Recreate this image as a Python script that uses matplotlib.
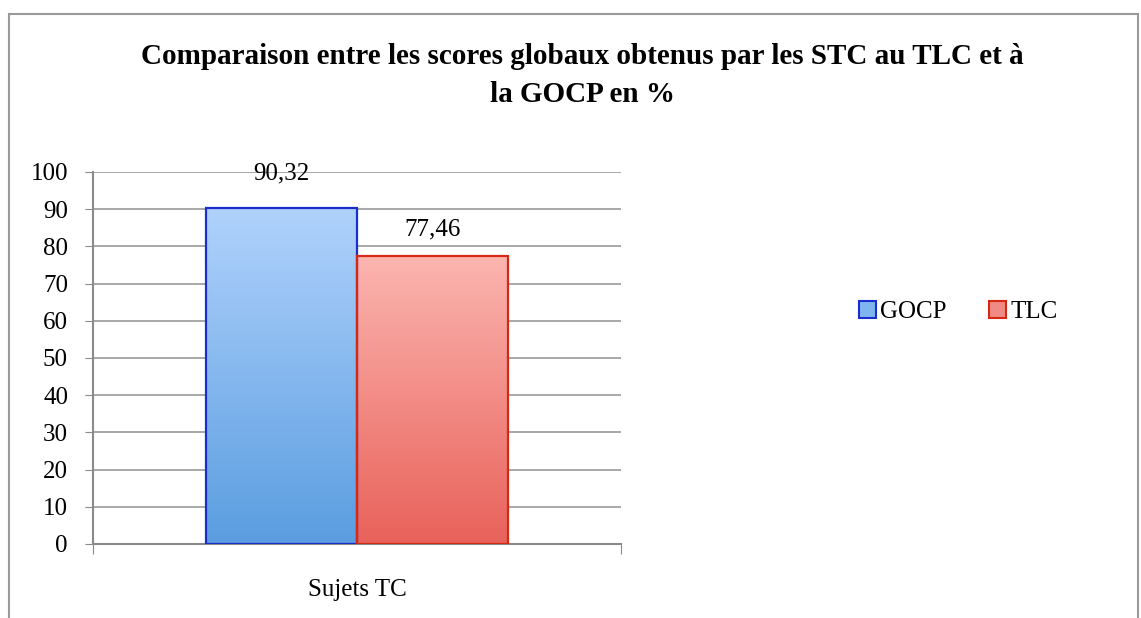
import numpy as np
import matplotlib.pyplot as plt
from matplotlib.patches import Rectangle, Patch
from matplotlib.colors import LinearSegmentedColormap

# data
series = ['GOCP', 'TLC']
values = [90.32, 77.46]
category = 'Sujets TC'
value_labels = ['90,32', '77,46']
yticks = list(range(0, 101, 10))

# styles
top_cols = ['#b0d2fc', '#fcb5b0']
bot_cols = ['#5a9de0', '#e8625a']
mid_cols = ['#7fb4ee', '#f08a84']
edge_cols = ['#1a2ecc', '#d42a14']
label_offsets = [25, 19]  # points above bar top (text centre)

plt.rcParams['font.family'] = ['Liberation Serif', 'DejaVu Serif']

fig = plt.figure(figsize=(11.41, 6.18), dpi=100)
W, H = 1141, 618

# outer chart frame
fig.patches.append(Rectangle((9 / W, -0.05), (1138 - 9) / W, 1.05 - 14 / H,
                             transform=fig.transFigure, fill=False,
                             edgecolor='#9a9a9a', linewidth=1.5))

ax = fig.add_axes([93 / W, 1 - 544 / H, (621 - 93) / W, (544 - 172) / H])
ax.set_xlim(-0.5, 0.5)
ax.set_ylim(0, 100)

bw = 151 / 528
xs = [-bw / 2, bw / 2]
grad = np.linspace(0, 1, 256).reshape(-1, 1)
for i, (x, v) in enumerate(zip(xs, values)):
    cmap = LinearSegmentedColormap.from_list('g%d' % i, [bot_cols[i], top_cols[i]])
    im = ax.imshow(grad, extent=[x - bw / 2, x + bw / 2, 0, v], origin='lower',
                   aspect='auto', cmap=cmap, zorder=2)
    rect = Rectangle((x - bw / 2, 0), bw, v, fill=False, edgecolor=edge_cols[i],
                     linewidth=1.6, zorder=3)
    ax.add_patch(rect)
    im.set_clip_path(rect)
    ax.annotate(value_labels[i], (x, v), xytext=(0, label_offsets[i]),
                textcoords='offset points', ha='center', va='center', fontsize=18)

ax.set_yticks(yticks)
ax.tick_params(axis='y', labelsize=18, length=6, color='#8a8a8a', pad=12)
ax.yaxis.grid(True, color='#9a9a9a', linewidth=1.2, zorder=0)
ax.set_axisbelow(True)
ax.set_xticks([-0.5, 0.5])
ax.set_xticklabels(['', ''])
ax.set_xticks([0], minor=True)
ax.set_xticklabels([category], minor=True, fontsize=18)
ax.tick_params(axis='x', which='major', length=7, color='#8a8a8a')
ax.tick_params(axis='x', which='minor', length=0, pad=25)
for s in ['top', 'right']:
    ax.spines[s].set_visible(False)
for s in ['left', 'bottom']:
    ax.spines[s].set_color('#8a8a8a')
    ax.spines[s].set_linewidth(1.5)

handles = [Patch(facecolor=mid_cols[i], edgecolor=edge_cols[i], linewidth=1.5,
                 label=series[i]) for i in range(2)]
fig.legend(handles=handles, loc='center', bbox_to_anchor=(958 / W, 1 - 312 / H),
           ncol=2, frameon=False, fontsize=18, handlelength=0.7, handleheight=0.7,
           handletextpad=0.15, columnspacing=1.7)

fig.text(582 / W, 1 - 56 / H,
         'Comparaison entre les scores globaux obtenus par les STC au TLC et à',
         ha='center', va='center', fontsize=21, fontweight='bold')
fig.text(582 / W, 1 - 95 / H, 'la GOCP en %', ha='center', va='center',
         fontsize=21, fontweight='bold')

fig.savefig('out.png', dpi=100)
